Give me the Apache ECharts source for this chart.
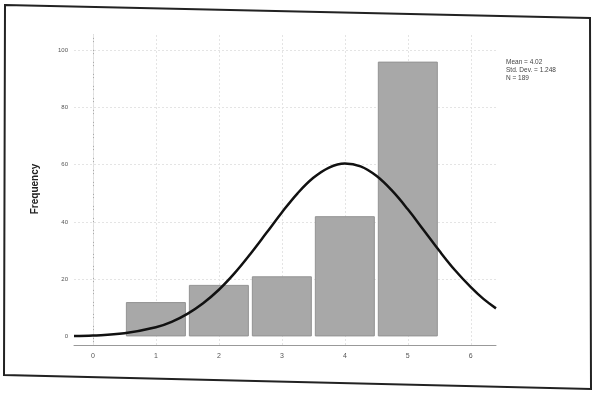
<!DOCTYPE html>
<html><head><meta charset="utf-8">
<script src="https://cdn.jsdelivr.net/npm/echarts@6/dist/echarts.min.js"></script>
<style>html,body{margin:0;padding:0;background:#fff}#c{width:593px;height:394px}</style>
</head><body><div id="c"></div>
<script>
const categories = [1, 2, 3, 4, 5];
const frequencies = [12, 18, 21, 42, 96];
const curveX = [-0.3, 0, 0.5, 1, 1.25, 1.5, 1.75, 2, 2.25, 2.5, 2.75, 3, 3.25, 3.5, 3.75, 4, 4.25, 4.5, 4.75, 5, 5.25, 5.5, 5.75, 6, 6.2, 6.4];
const curveY = [0.15, 0.3, 1.1, 3.2, 5.1, 7.9, 11.6, 16.3, 22.1, 28.8, 36.0, 43.3, 50.0, 55.4, 59.0, 60.4, 59.4, 56.1, 50.9, 44.4, 37.2, 29.9, 23.1, 17.2, 13.1, 9.8];
const xTicks = [0, 1, 2, 3, 4, 5, 6];
const yTicks = [0, 20, 40, 60, 80, 100];
const statsLines = ['Mean = 4.02', 'Std. Dev. = 1.248', 'N = 189'];

const chart = echarts.init(document.getElementById('c'), null, {renderer: 'canvas'});
const gridLineStyle = {color: '#e4e4e4', width: 1, type: [2, 2]};
chart.setOption({
  backgroundColor: '#fff',
  animation: false,
  grid: {left: 74, right: 97, top: 33, bottom: 49},
  xAxis: {
    type: 'value', min: -0.3, max: 6.4,
    axisLine: {show: true, onZero: false, lineStyle: {color: '#999', width: 1}},
    axisTick: {show: false, customValues: xTicks},
    axisLabel: {customValues: xTicks, color: '#555', fontSize: 7, fontFamily: 'Arial', margin: 8},
    splitLine: {show: false}
  },
  yAxis: {
    type: 'value', min: -3, max: 106,
    axisLine: {show: true, lineStyle: {color: '#aaa', width: 1, type: [1, 2]}},
    axisTick: {show: false, customValues: yTicks},
    axisLabel: {customValues: yTicks, color: '#555', fontSize: 6, fontFamily: 'Arial', margin: 6},
    splitLine: {show: false},
    name: 'Frequency', nameLocation: 'middle', nameGap: 34, nameRotate: 90,
    nameTextStyle: {fontSize: 10, fontWeight: 'bold', color: '#222', fontFamily: 'Arial'}
  },
  series: [
    {
      type: 'line', data: [], silent: true, z: 1,
      markLine: {
        silent: true, symbol: 'none', label: {show: false}, z: 1,
        lineStyle: gridLineStyle,
        data: yTicks.filter(v => v > 0).map(v => ({yAxis: v}))
          .concat(xTicks.map(v => ({xAxis: v})))
      }
    },
    {
      type: 'bar', barWidth: 60,
      data: categories.map((c, i) => [c, frequencies[i]]),
      itemStyle: {color: '#a8a8a8', borderColor: '#939393', borderWidth: 1},
      z: 10
    },
    {
      type: 'line', smooth: 0.4, symbol: 'none',
      data: curveX.map((x, i) => [x, curveY[i]]),
      lineStyle: {color: '#111', width: 2.5},
      z: 12
    }
  ],
  graphic: [
    {
      type: 'polygon', silent: true,
      shape: {points: [[5, 5], [590, 18], [591, 389], [4, 375]]},
      style: {fill: 'none', stroke: '#222', lineWidth: 2}
    },
    {
      type: 'text', left: 506, top: 58,
      style: {text: statsLines.join('\n'), fontSize: 6.5, lineHeight: 8, fill: '#444', fontFamily: 'Arial'}
    }
  ]
});
</script>
</body></html>
